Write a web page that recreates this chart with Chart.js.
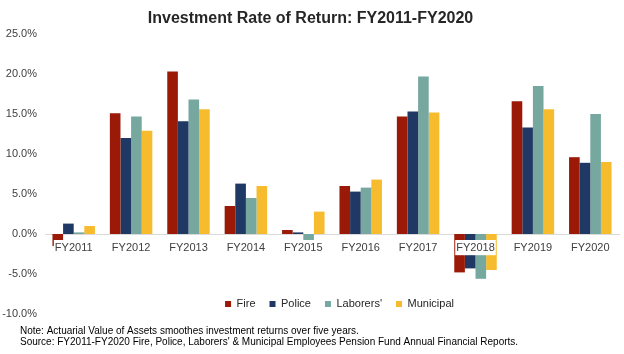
<!DOCTYPE html>
<html>
<head>
<meta charset="utf-8">
<script src="https://cdn.jsdelivr.net/npm/chart.js@4.4.1/dist/chart.umd.min.js"></script>
<style>
  html, body { margin: 0; padding: 0; background: #fff; }
  canvas { display: block; }
</style>
</head>
<body>
<canvas id="chartRetorno" width="624" height="354"></canvas>
<script>
// Dados (% de retorno por ano fiscal)
const anos = ["FY2011", "FY2012", "FY2013", "FY2014", "FY2015", "FY2016", "FY2017", "FY2018", "FY2019", "FY2020"];
const fire = [-1.5, 15.1, 20.3, 3.5, 0.5, 6.0, 14.7, -4.8, 16.6, 9.6];
const police = [1.3, 12.0, 14.1, 6.3, 0.2, 5.3, 15.3, -4.3, 13.3, 8.9];
const laborers = [0.2, 14.7, 16.8, 4.5, -0.9, 5.8, 19.7, -5.6, 18.5, 15.0];
const municipal = [1.0, 12.9, 15.6, 6.0, 2.8, 6.8, 15.2, -4.5, 15.6, 9.0];
const notas = [
  "Note: Actuarial Value of Assets smoothes investment returns over five years.",
  "Source: FY2011-FY2020 Fire, Police, Laborers' & Municipal Employees Pension Fund Annual Financial Reports."
];

Chart.defaults.font.family = '"Liberation Sans", Arial, sans-serif';

// Move a legenda para dentro da área do gráfico (como no original)
const moveLegenda = {
  id: "moveLegenda",
  afterLayout(chart) {
    const lg = chart.legend;
    const h = lg.bottom - lg.top;
    lg.top = 284.5;
    lg.bottom = lg.top + h;
    lg.left += 29;
    lg.right += 29;
  }
};

// Notas de rodapé
const rodape = {
  id: "rodape",
  afterDraw(chart) {
    const ctx = chart.ctx;
    ctx.save();
    ctx.font = '10px "Liberation Sans", Arial, sans-serif';
    ctx.fillStyle = "#000";
    ctx.textBaseline = "middle";
    ctx.textAlign = "left";
    ctx.fillText(notas[0], 20, 331);
    ctx.fillText(notas[1], 20, 342.5);
    ctx.restore();
  }
};

new Chart(document.getElementById("chartRetorno"), {
  type: "bar",
  data: {
    labels: anos,
    datasets: [
      { label: "Fire", data: fire, backgroundColor: "#9a1a07" },
      { label: "Police", data: police, backgroundColor: "#203864" },
      { label: "Laborers'", data: laborers, backgroundColor: "#76a89f" },
      { label: "Municipal", data: municipal, backgroundColor: "#f6bc2e" },
    ],
  },
  options: {
    responsive: false,
    animation: false,
    categoryPercentage: 0.74,
    barPercentage: 1.0,
    layout: {
      padding: { left: 2, right: 5, top: 0, bottom: 5 }
    },
    plugins: {
      title: {
        display: true,
        text: "Investment Rate of Return: FY2011-FY2020",
        color: "#262626",
        font: { size: 16, weight: "bold" },
        padding: { top: 9, bottom: 5.8 }
      },
      legend: {
        position: "bottom",
        labels: {
          boxWidth: 6,
          boxHeight: 6,
          padding: 14,
          color: "#262626",
          font: { size: 11 }
        }
      },
      tooltip: { enabled: false }
    },
    scales: {
      x: {
        position: { y: 0 }, // eixo no zero
        grid: { display: false, drawTicks: false },
        border: { display: true, color: "#d9d9d9", width: 1 },
        ticks: {
          z: 1, // rótulos por cima das barras
          color: "#404040",
          font: { size: 11 },
          padding: 7,
          maxRotation: 0,
          autoSkip: false,
          showLabelBackdrop: true,
          backdropColor: "#ffffff",
          backdropPadding: 1
        }
      },
      y: {
        min: -10,
        max: 25,
        grid: { display: false, drawTicks: false },
        border: { display: false },
        afterFit(scale) { scale.width = 43; },
        ticks: {
          stepSize: 5,
          autoSkip: false,
          color: "#404040",
          font: { size: 11 },
          padding: 8,
          callback: (v) => v.toFixed(1) + "%"
        }
      }
    }
  },
  plugins: [moveLegenda, rodape]
});
</script>
</body>
</html>
